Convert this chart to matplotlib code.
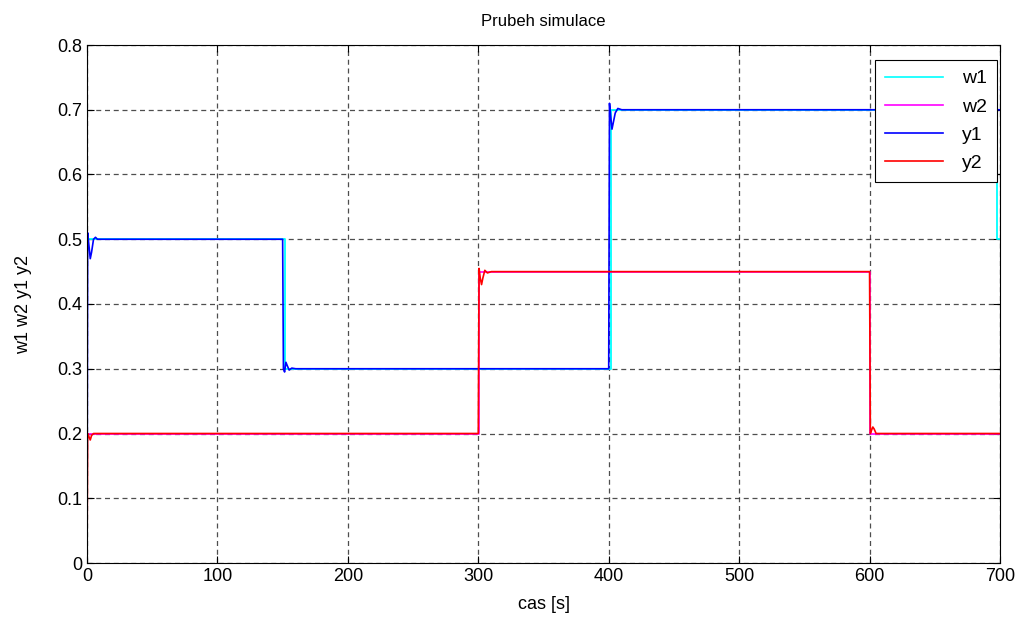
import numpy as np
import matplotlib.pyplot as plt

# reference signals (steps)
t_w1 = [0, 0, 151.5, 151.5, 401.5, 401.5, 698, 698, 700]
w1 = [0, 0.5, 0.5, 0.3, 0.3, 0.7, 0.7, 0.5, 0.5]

t_w2 = [0, 0, 300.5, 300.5, 600, 600, 700]
w2 = [0, 0.2, 0.2, 0.45, 0.45, 0.2, 0.2]

# outputs with small transients
t_y1 = [0, 0.5, 1.5, 2.5, 3.5, 5, 6.5, 8, 10, 150, 150.6, 151.5, 152.5, 153.5, 155, 157, 160,
        400, 400.6, 401.5, 402.5, 403.5, 405, 407, 410, 700]
y1 = [0, 0.51, 0.49, 0.47, 0.48, 0.5, 0.503, 0.5, 0.5, 0.5, 0.3, 0.295, 0.31, 0.305, 0.298, 0.301, 0.3,
      0.3, 0.71, 0.69, 0.67, 0.68, 0.695, 0.702, 0.7, 0.7]

t_y2 = [0, 0.5, 1.5, 2.5, 3.5, 5, 7, 300, 300.6, 301.5, 302.5, 303.5, 305, 307, 310,
        600, 600.6, 601.5, 602.5, 603.5, 605, 607, 610, 700]
y2 = [0, 0.2, 0.195, 0.19, 0.197, 0.2, 0.2, 0.2, 0.455, 0.44, 0.43, 0.44, 0.452, 0.448, 0.45,
      0.45, 0.2, 0.205, 0.21, 0.207, 0.2, 0.2, 0.2, 0.2]

plt.rcParams['font.family'] = ['Liberation Sans', 'DejaVu Sans']

fig = plt.figure(figsize=(10.21, 6.30), dpi=100)
ax = fig.add_axes([87 / 1021, 67 / 630, 913 / 1021, 518 / 630])

ax.plot(t_w1, w1, color='#00ffff', lw=1.3, label='w1')
ax.plot(t_w2, w2, color='#ff00ff', lw=1.2, label='w2')
ax.plot(t_y1, y1, color='#0000ff', lw=1.2, label='y1')
ax.plot(t_y2, y2, color='#ff0000', lw=1.2, label='y2')

ax.set_xlim(0, 700)
ax.set_ylim(0, 0.8)
ax.set_xticks(np.arange(0, 701, 100))
ax.set_yticks(np.arange(0, 0.81, 0.1))
ax.set_yticklabels(['0', '0.1', '0.2', '0.3', '0.4', '0.5', '0.6', '0.7', '0.8'])
ax.grid(True, color='#222222', linestyle=(0, (4, 3)), lw=0.9, alpha=0.8)
ax.tick_params(direction='in', top=True, right=True, labelsize=13, length=5)
for s in ax.spines.values():
    s.set_linewidth(0.8)

ax.set_title('Prubeh simulace', fontsize=12, pad=14)
ax.set_xlabel('cas [s]', fontsize=13, labelpad=8)
ax.set_ylabel('w1 w2 y1 y2', fontsize=13, labelpad=18)

leg = ax.legend(loc='upper right', bbox_to_anchor=(997 / 1021, 570 / 630),
                bbox_transform=fig.transFigure, borderaxespad=0,
                fontsize=14, fancybox=False, framealpha=1,
                edgecolor='black', handlelength=3.0, handletextpad=1.0,
                labelspacing=0.55, borderpad=0.5)
leg.get_frame().set_linewidth(0.8)
for ln in leg.get_lines():
    ln.set_linewidth(1.2)

fig.savefig('out.png', dpi=100)
